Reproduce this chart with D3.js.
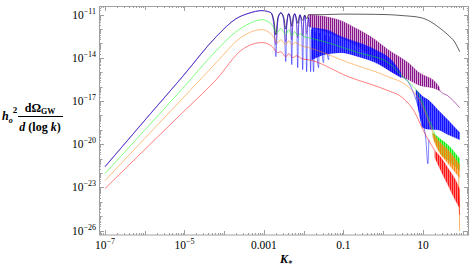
<!DOCTYPE html>
<html lang="en">
<head>
<meta charset="utf-8">
<title>GW spectrum</title>
<script src="https://cdnjs.cloudflare.com/ajax/libs/d3/7.8.5/d3.min.js"></script>
<style>
body { margin: 0; background: #fff; }
svg { display: block; }
text { font-family: "Liberation Serif", "DejaVu Serif", serif; fill: #000; }
.frame { fill: none; stroke: #a0a0a0; stroke-width: 1; }
.tick { stroke: #a0a0a0; stroke-width: 1; }
path.ln { fill: none; stroke-linejoin: round; }
</style>
</head>
<body>
<script>
// all values are log10(k), log10(h^2 dOmega/dlogk)
var riseTop = [[-7,-21.56],[-5.875,-17.94],[-5.05,-15.31],[-4.2,-12.53],[-3.7,-11.28],[-3.375,-10.9],[-3.05,-10.72],[-2.825,-10.86]];

var blackTail = [[-2.825,-10.86],[-2.75,-11.4],[-2.7,-12.4],[-2.65,-11.2],[-2.575,-10.9],[-2.5,-11.2],[-2.45,-12.0],[-2.4,-11.1],[-2.375,-10.95],[-2.33,-11.3],[-2.3,-11.8],[-2.26,-11.1],[-2.225,-10.97],[-2.18,-11.3],[-2.15,-11.6],[-2.1,-11.05],[-2.025,-11.4],[-1.975,-11.02],[-1.925,-11.3],[-1.875,-11.0],[-1.5,-11.0],[-1.0,-10.96],[-0.5,-10.97],[0.125,-11.0],[0.5,-11.07],[0.95,-11.21],[1.2,-11.5],[1.375,-11.83],[1.625,-12.39],[1.8,-12.9],[1.925,-13.57]];

var purpleTail = [[-2.75,-11.69],[-2.7,-13.08],[-2.66,-11.69],[-2.625,-11.07],[-2.575,-10.86],[-2.525,-11.07],[-2.49,-11.69],[-2.45,-12.88],[-2.425,-11.69],[-2.375,-10.93],[-2.325,-11.69],[-2.3,-12.74],[-2.275,-11.69],[-2.225,-10.93],[-2.175,-11.69],[-2.15,-12.6],[-2.125,-11.69],[-2.09,-11.0],[-2.05,-11.69],[-2.025,-12.46],[-2.0,-11.49],[-1.975,-11.07],[-1.95,-11.62],[-1.925,-12.32],[-1.9,-11.62],[-1.875,-11.21]];
var purpleBand = [[-1.875,-11.0,-11.83],[-1.125,-11.35,-12.53],[-0.625,-12.04,-13.22],[-0.2,-12.74,-14.13],[0.125,-13.43,-14.82],[0.625,-14.33,-15.51],[0.875,-14.96,-15.86],[1.375,-15.86,-16.21],[1.42,-16.1,-16.3]];
var purpleEnd = [[1.375,-16.07],[1.45,-16.35],[1.625,-16.63],[1.925,-17.46]];

var blueTail = [[-2.75,-11.69],[-2.7,-13.92],[-2.66,-11.69],[-2.625,-11.07],[-2.575,-10.86],[-2.525,-11.07],[-2.49,-11.69],[-2.45,-14.26],[-2.425,-11.69],[-2.375,-10.93],[-2.325,-11.69],[-2.3,-14.47],[-2.275,-11.69],[-2.225,-10.93],[-2.175,-11.69],[-2.15,-14.68],[-2.125,-11.69],[-2.09,-11.0],[-2.05,-11.69],[-2.025,-14.82],[-2.0,-11.49],[-1.975,-11.07],[-1.95,-11.62],[-1.925,-14.96],[-1.9,-11.62],[-1.875,-11.21],[-1.85,-11.9],[-1.825,-14.96],[-1.8,-12.04],[-1.75,-14.96],[-1.72,-12.2],[-1.625,-14.68],[-1.6,-12.3],[-1.5,-14.33],[-1.47,-12.4],[-1.375,-14.13],[-1.35,-12.5]];
var blueBand1 = [[-1.8,-11.9,-14.13],[-1.625,-11.97,-13.92],[-1.45,-12.04,-13.75],[-1.05,-12.53,-13.64],[-0.625,-12.94,-13.92],[-0.2,-13.43,-14.33],[0.2,-14.13,-14.96],[0.45,-15.03,-15.38]];
var blueDrop = [[0.45,-15.31],[0.625,-15.65],[0.825,-16.9],[0.975,-18.29],[1.075,-19.68],[1.125,-21.35],[1.15,-19.68]];
var blueBand2 = [[0.825,-16.21,-16.56],[0.9,-16.4,-17.8],[1.0,-16.69,-18.85],[1.125,-16.9,-18.95],[1.375,-17.6,-18.99],[1.625,-18.29,-19.33],[1.925,-19.19,-19.68]];

var greenLine = [[-7,-22.04],[-5.875,-18.64],[-5.05,-16.14],[-4.2,-13.5],[-3.7,-12.18],[-3.375,-11.63],[-3.05,-11.35],[-2.8,-11.69],[-2.675,-12.25],[-2.575,-11.97],[-2.45,-12.39],[-2.375,-12.04],[-2.3,-12.46],[-2.225,-12.18],[-2.15,-12.46],[-2.075,-12.32],[-2.0,-12.53],[-1.875,-12.6],[-0.625,-13.64],[0.125,-14.33],[0.375,-14.96],[0.625,-15.65],[0.875,-16.42],[1.125,-18.08],[1.3,-19.26]];
var greenBand = [[1.25,-19.2,-19.4],[1.45,-19.65,-20.65],[1.625,-20.03,-21.1],[1.925,-21.0,-21.83]];

var orangeLine = [[-7,-22.53],[-5.875,-19.23],[-5.05,-16.83],[-4.2,-14.33],[-3.55,-12.53],[-3.05,-12.04],[-2.8,-12.4],[-2.65,-12.94],[-2.575,-12.74],[-2.45,-13.08],[-2.375,-12.81],[-2.3,-13.08],[-2.2,-12.94],[-2.075,-13.15],[-1.875,-13.29],[-0.875,-14.33],[0.125,-15.31],[0.625,-16.0],[0.95,-17.11],[1.125,-18.29],[1.25,-19.19]];
var orangeBand = [[1.25,-19.19,-19.54],[1.375,-19.7,-20.38],[1.625,-20.38,-21.3],[1.925,-21.42,-22.32]];
var orangeSpike = [[1.9,-22.1],[1.925,-26.0]];

var redLine = [[-7,-23.08],[-5.875,-20.03],[-5.05,-17.81],[-4.2,-15.51],[-3.55,-13.43],[-3.05,-12.94],[-2.8,-13.2],[-2.65,-13.64],[-2.575,-13.57],[-2.45,-13.92],[-2.375,-13.71],[-2.275,-13.99],[-2.175,-13.85],[-2.05,-14.06],[-1.875,-14.13],[-0.875,-15.31],[0.125,-16.28],[0.45,-16.69],[0.8,-17.81],[1.0,-18.99],[1.3,-20.44]];
var redBand = [[1.3,-20.44,-20.93],[1.5,-21.1,-22.11],[1.625,-21.63,-22.8],[1.875,-22.8,-24.19],[1.925,-23.15,-24.4]];
var redSpike = [[1.9,-23.5],[1.925,-24.9]];

var xLabelExp = [-7, -5, -3, -1, 1];
var xLabelText = ["10|-7", "10|-5", "0.001", "0.1", "10"];
var yLabelExp = [-11, -14, -17, -20, -23, -26];

var width = 471, height = 268;
var svg = d3.select("body").append("svg").attr("width", width).attr("height", height);

var x = d3.scaleLog().domain([Math.pow(10, -7.15), Math.pow(10, 2.16)]).range([99, 469]);
var y = d3.scaleLog().domain([Math.pow(10, -26.3), Math.pow(10, -10.4)]).range([235, 6]);

var line = d3.line()
  .curve(d3.curveMonotoneX)
  .x(function(d) { return x(Math.pow(10, d[0])); })
  .y(function(d) { return y(Math.pow(10, d[1])); });
var area = d3.area()
  .curve(d3.curveMonotoneX)
  .x(function(d) { return x(Math.pow(10, d[0])); })
  .y0(function(d) { return y(Math.pow(10, d[2])); })
  .y1(function(d) { return y(Math.pow(10, d[1])); });

// vertical hatch patterns to mimic the dense oscillations
var defs = svg.append("defs");
function hatch(id, color, w) {
  var p = defs.append("pattern").attr("id", id).attr("patternUnits", "userSpaceOnUse")
    .attr("width", 2).attr("height", 4);
  p.append("rect").attr("width", w).attr("height", 4).attr("fill", color);
}
hatch("hPurple", "#800080", 1.1);
hatch("hBlue", "#0000ff", 1.6);
hatch("hGreen", "#00ee00", 1.4);
hatch("hOrange", "#ff8000", 1.4);
hatch("hRed", "#ff0000", 1.4);

var plot = svg.append("g");

function drawLine(data, color, op, w) {
  plot.append("path").attr("class", "ln").attr("d", line(data))
    .attr("stroke", color).attr("stroke-opacity", op).attr("stroke-width", w || 1);
}
function drawBand(data, color, pat, op) {
  plot.append("path").attr("d", area(data)).attr("fill", color).attr("fill-opacity", 0.25);
  plot.append("path").attr("d", area(data)).attr("fill", "url(#" + pat + ")").attr("fill-opacity", op)
    .attr("stroke", color).attr("stroke-opacity", 0.35).attr("stroke-width", 0.6);
}

// black, purple, blue share the rising part
drawLine(riseTop, "#000000", 0.25, 0.9);
drawLine(blackTail, "#000000", 0.7, 0.9);
drawLine(riseTop.concat(purpleTail), "#800080", 0.45);
drawBand(purpleBand, "#800080", "hPurple", 0.9);
drawLine(purpleEnd, "#800080", 0.6);
drawLine(riseTop.concat(blueTail), "#0000ff", 0.5);
drawBand(blueBand1, "#0000ff", "hBlue", 0.9);
drawLine(blueDrop, "#0000ff", 0.5);
drawBand(blueBand2, "#0000ff", "hBlue", 0.9);

drawLine(greenLine, "#00ff00", 0.5);
drawBand(greenBand, "#00ee00", "hGreen", 0.9);
drawLine(orangeLine, "#ff8000", 0.5);
drawBand(orangeBand, "#ff8000", "hOrange", 0.9);
drawLine(orangeSpike, "#ff8000", 0.6);
drawLine(redLine, "#ff0000", 0.5);
drawBand(redBand, "#ff0000", "hRed", 0.9);
drawLine(redSpike, "#ff0000", 0.6);

// frame
svg.append("rect").attr("class", "frame").attr("x", 99.5).attr("y", 6.5).attr("width", 369).attr("height", 228.5);

// x ticks (decades + minors) on bottom and top
var x0 = x.range()[0], x1 = x.range()[1], y0 = y.range()[0], y1 = y.range()[1];
d3.range(-8, 3).forEach(function(e) {
  d3.range(1, 10).forEach(function(m) {
    var v = m * Math.pow(10, e);
    var px = x(v);
    if (px < x0 + 0.5 || px > x1 - 0.5) return;
    var len = m === 1 ? (xLabelExp.indexOf(e) >= 0 ? 5 : 4) : 2;
    px = Math.round(px) + 0.5;
    svg.append("line").attr("class", "tick").attr("x1", px).attr("x2", px).attr("y1", y0).attr("y2", y0 - len);
    svg.append("line").attr("class", "tick").attr("x1", px).attr("x2", px).attr("y1", y1).attr("y2", y1 + len);
  });
});
// y ticks on left and right
d3.range(-27, -9).forEach(function(e) {
  d3.range(1, 10).forEach(function(m) {
    var v = m * Math.pow(10, e);
    var py = y(v);
    if (py > y0 - 0.5 || py < y1 + 0.5) return;
    var len = m === 1 ? (yLabelExp.indexOf(e) >= 0 ? 5 : 3.5) : 2;
    py = Math.round(py) + 0.5;
    svg.append("line").attr("class", "tick").attr("y1", py).attr("y2", py).attr("x1", x0).attr("x2", x0 + len);
    svg.append("line").attr("class", "tick").attr("y1", py).attr("y2", py).attr("x1", x1).attr("x2", x1 - len);
  });
});

// x tick labels
xLabelExp.forEach(function(e, i) {
  var parts = xLabelText[i].split("|");
  var t = svg.append("text").attr("x", x(Math.pow(10, e))).attr("y", 249)
    .attr("text-anchor", "middle").style("font-size", "11.5px");
  t.append("tspan").text(parts[0]);
  if (parts[1]) t.append("tspan").attr("dy", -5).style("font-size", "8px").text(parts[1].replace("-", "\u2212"));
});
// y tick labels
yLabelExp.forEach(function(e) {
  var t = svg.append("text").attr("x", 96).attr("y", y(Math.pow(10, e)) + 4)
    .attr("text-anchor", "end").style("font-size", "11.5px");
  t.append("tspan").text("10");
  t.append("tspan").attr("dy", -5).style("font-size", "8px").text("\u2212" + (-e));
});

// x axis title
var xt = svg.append("text").attr("x", 280).attr("y", 263).style("font-size", "12px")
  .style("font-weight", "bold").style("font-style", "italic");
xt.append("tspan").text("K");
xt.append("tspan").attr("dy", 3).style("font-size", "8px").text("*");

// y axis title: h_o^2 dOmega_GW / d(log k)
var ht = svg.append("text").attr("x", 2).attr("y", 120).style("font-size", "12px").style("font-weight", "bold");
ht.append("tspan").style("font-style", "italic").text("h");
ht.append("tspan").attr("dy", 3).style("font-size", "8px").style("font-style", "italic").text("o");
ht.append("tspan").attr("dy", -10).style("font-size", "9px").text("2");

svg.append("line").attr("x1", 18).attr("x2", 63).attr("y1", 116.5).attr("y2", 116.5)
  .attr("stroke", "#000").attr("stroke-width", 1.2);

var num = svg.append("text").attr("x", 40).attr("y", 112).attr("text-anchor", "middle")
  .style("font-size", "12px").style("font-weight", "bold");
num.append("tspan").text("d\u03A9");
num.append("tspan").attr("dy", 2).style("font-size", "8px").text("GW");

var den = svg.append("text").attr("x", 40).attr("y", 131).attr("text-anchor", "middle")
  .style("font-size", "12px").style("font-weight", "bold");
den.append("tspan").style("font-style", "italic").text("d");
den.append("tspan").text(" (log ");
den.append("tspan").style("font-style", "italic").text("k");
den.append("tspan").text(")");
</script>
</body>
</html>
